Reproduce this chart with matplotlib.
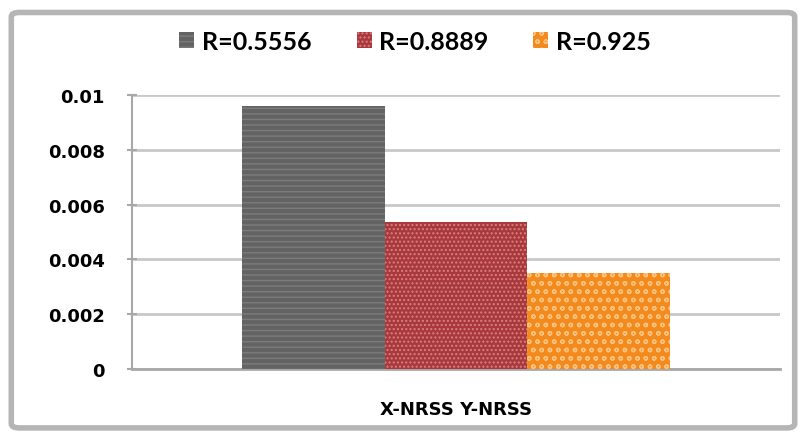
import matplotlib
matplotlib.use("Agg")
import matplotlib.pyplot as plt
from matplotlib.patches import FancyBboxPatch

categories = ["X-NRSS Y-NRSS"]
series_names = ["R=0.5556", "R=0.8889", "R=0.925"]
values = [0.0096, 0.00537, 0.00350]
colors = ["#636363", "#a8383c", "#f28a1e"]
hatch_colors = ["#7c7c7c", "#d88080", "#fbc07a"]
hatches = ["---", "....", "oo"]
yticks = [0, 0.002, 0.004, 0.006, 0.008, 0.01]
ytick_labels = ["0", "0.002", "0.004", "0.006", "0.008", "0.01"]

fig = plt.figure(figsize=(8.06, 4.35), dpi=100)
fig.patch.set_facecolor("white")

# outer frame
frame = FancyBboxPatch((0.014, 0.014), 0.972, 0.955, boxstyle="round,pad=0,rounding_size=0.01",
                       transform=fig.transFigure, facecolor="none", edgecolor="#b5b5b5",
                       linewidth=4, zorder=-1)
fig.patches.append(frame)

ax = fig.add_axes([0.1638, 0.1494, 0.8039, 0.6299])
ax.set_facecolor("none")

width = 0.22
offsets = [-width, 0, width]
plt.rcParams["hatch.linewidth"] = 1.0
handles = []
for i, (name, v) in enumerate(zip(series_names, values)):
    b = ax.bar(offsets[i], v, width=width, color=colors[i], edgecolor=hatch_colors[i],
               hatch=hatches[i], linewidth=0, label=name, zorder=3)
    handles.append(b)

ax.set_xlim(-0.5, 0.5)
ax.set_ylim(0, 0.01)
ax.set_yticks(yticks)
ax.set_yticklabels(ytick_labels, fontsize=13, fontweight="bold", family="DejaVu Sans")
ax.set_xticks([0])
ax.set_xticklabels(categories, fontsize=13, fontweight="bold", family="DejaVu Sans")
ax.tick_params(axis="x", length=0, pad=22)
ax.tick_params(axis="y", length=7, color="#a8a8a8", width=1.5, pad=16, direction="inout")
ax.yaxis.grid(True, color="#c8c8c8", linewidth=2, zorder=0)
ax.set_axisbelow(True)
for s in ["top", "right"]:
    ax.spines[s].set_visible(False)
ax.spines["left"].set_color("#a8a8a8")
ax.spines["left"].set_linewidth(1.5)
ax.spines["bottom"].set_color("#a8a8a8")
ax.spines["bottom"].set_linewidth(2)

leg = fig.legend(handles=handles, labels=series_names, loc="center", bbox_to_anchor=(0.515, 0.903),
                 ncol=3, frameon=False, prop={"family": "Lato", "weight": "bold", "size": 18},
                 handlelength=0.6, handleheight=0.6, handletextpad=0.3, columnspacing=1.8)

fig.savefig("out.png", dpi=100)
